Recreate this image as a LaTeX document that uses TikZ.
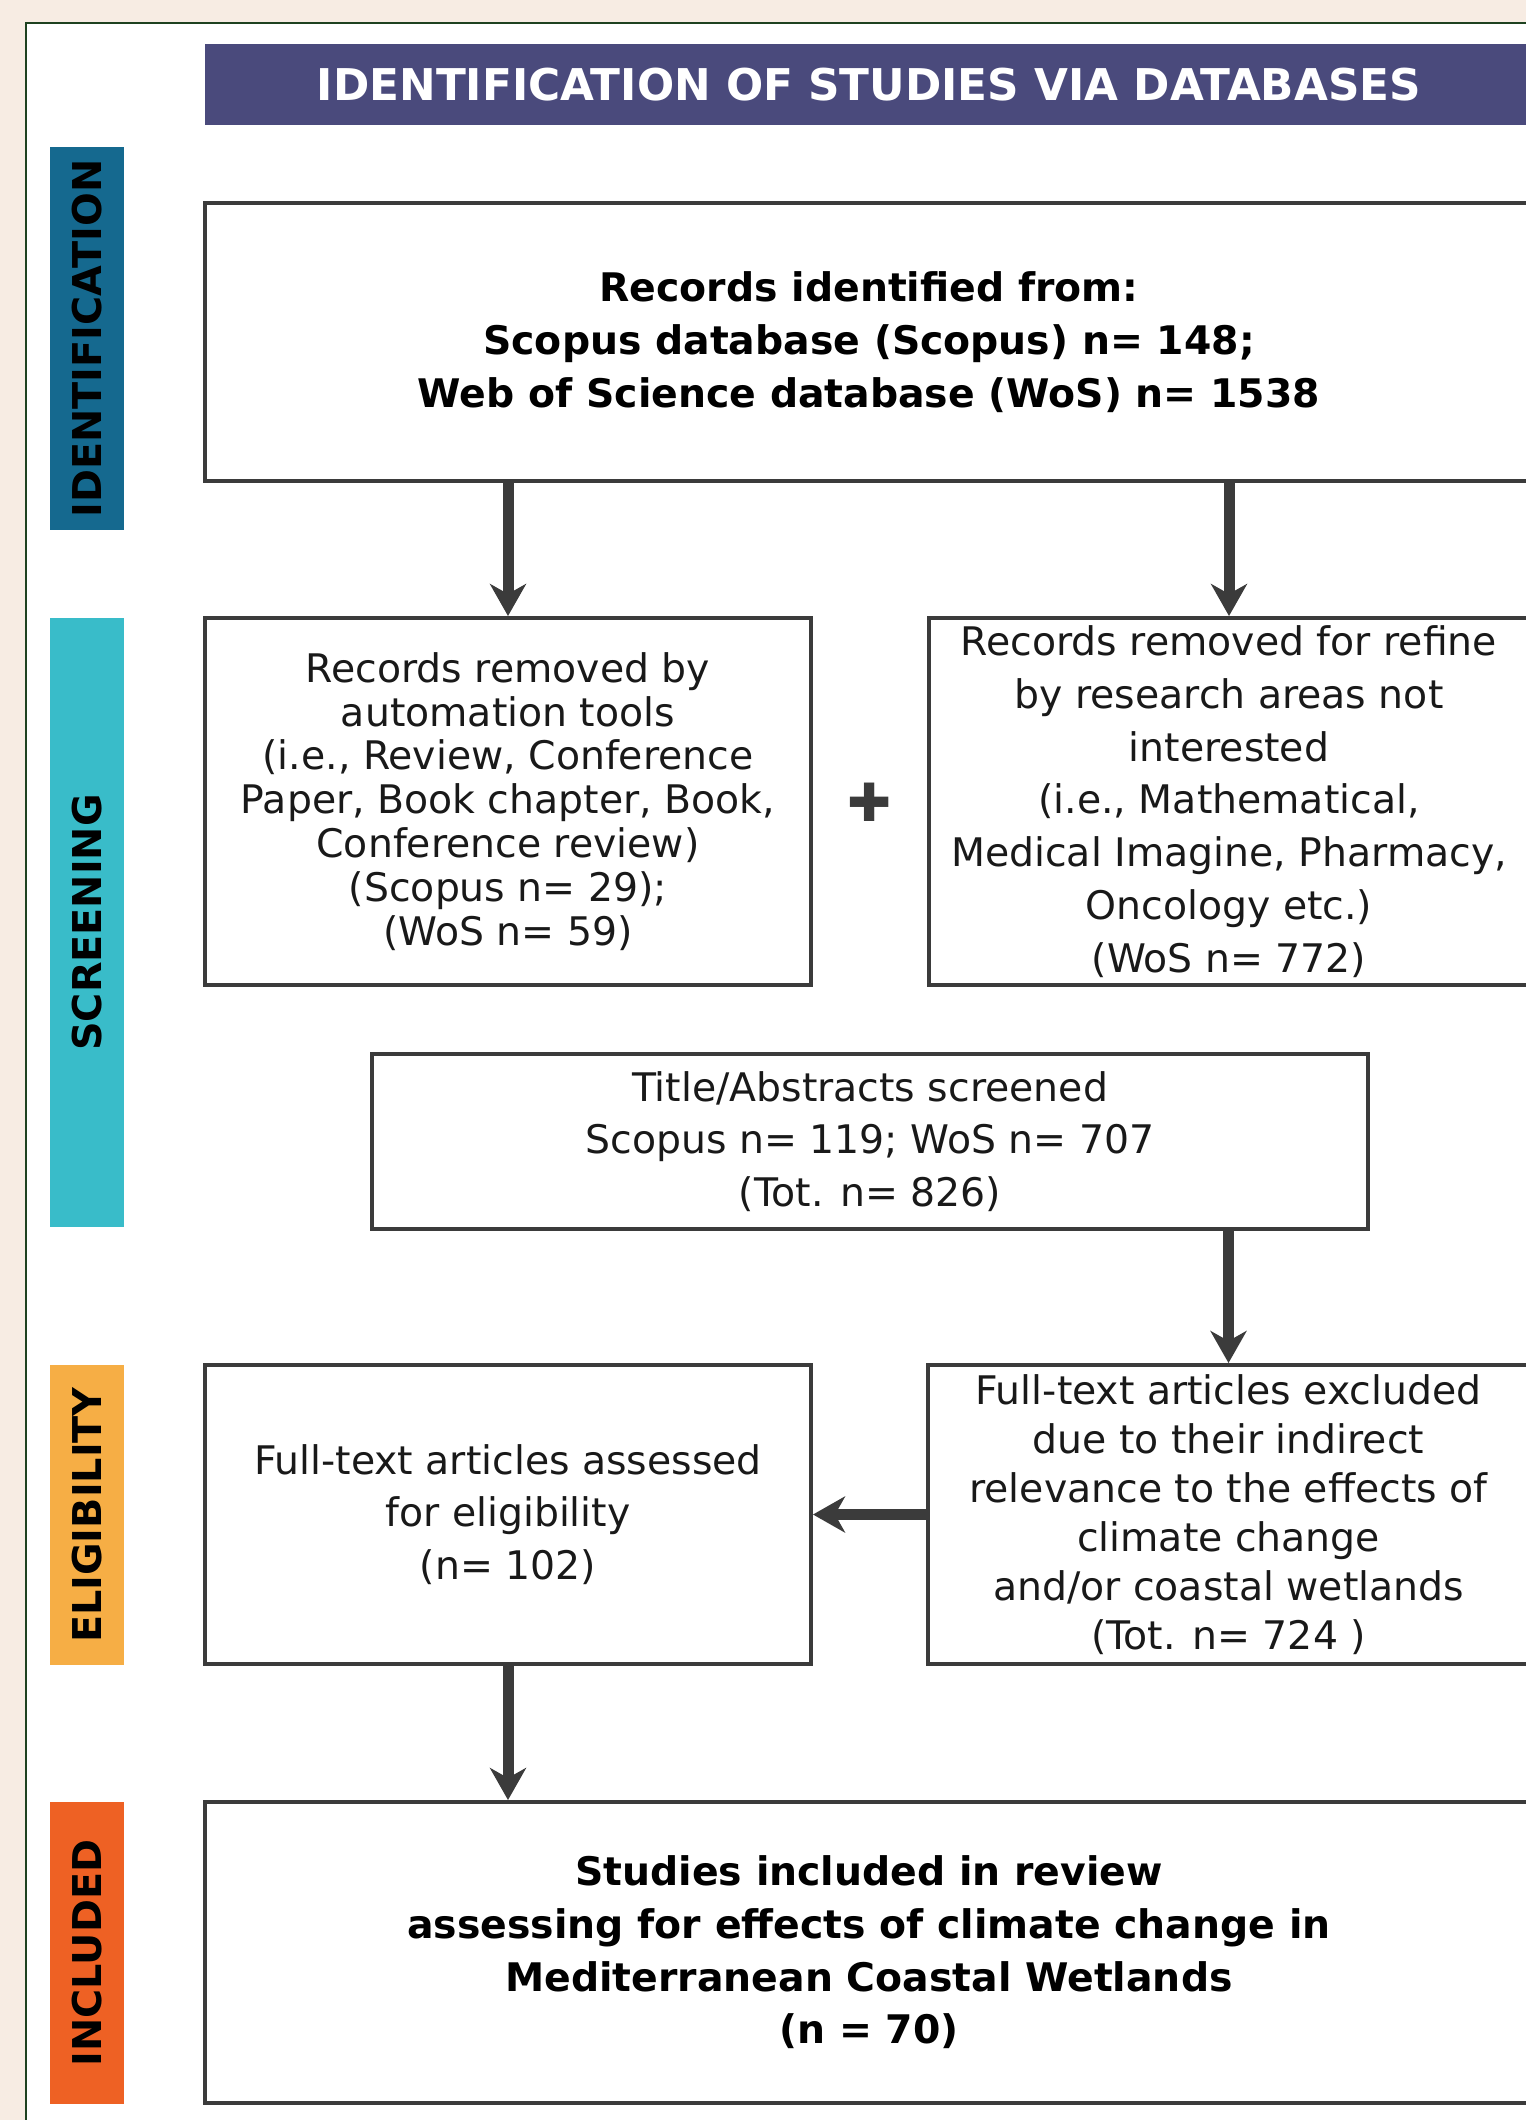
\documentclass[tikz,border=0pt]{standalone}
\usepackage{fontspec}
\setmainfont{DejaVu Sans}
\usetikzlibrary{shapes,arrows.meta,positioning,calc}

\definecolor{headblue}{HTML}{4A4A7C}
\definecolor{idblue}{HTML}{15698F}
\definecolor{scrcyan}{HTML}{39BCC9}
\definecolor{eliorange}{HTML}{F6AE45}
\definecolor{incred}{HTML}{EE6124}
\definecolor{framegreen}{HTML}{1E4220}
\definecolor{boxgray}{HTML}{3B3B3B}
\definecolor{peach}{HTML}{F7ECE3}

\begin{document}
\begin{tikzpicture}[x=0.1mm, y=-0.1mm,
  headbar/.style={rectangle, fill=headblue, minimum width=132.8mm, minimum height=8.1mm, text=white, font=\fontsize{12.45}{14}\selectfont\bfseries},
  phasebar/.style={rectangle, rotate=90, minimum height=7.4mm, inner sep=0pt, font=\fontsize{11.3}{13}\selectfont\bfseries},
  flowbox/.style={rectangle, draw=boxgray, line width=0.4mm, fill=white, align=center, inner sep=0pt, text=black!90, font=\fontsize{11.2}{15}\selectfont},
  boldbox/.style={flowbox, text=black, font=\fontsize{11.2}{15}\selectfont\bfseries},
  arr/.style={-{Stealth[length=3.2mm, width=3.6mm, inset=1mm]}, line width=1.1mm, draw=boxgray},
]

\useasboundingbox (0,0) rectangle (1526,2120);
\clip (0,0) rectangle (1526,2120);
\fill[peach] (0,0) rectangle (1526,2120);
\draw[framegreen, line width=0.25mm, fill=white] (26,23) rectangle (1600,2200);

% Header and phases
\node[headbar] (header) at (869,84.5) {IDENTIFICATION OF STUDIES VIA DATABASES};
\node[phasebar, fill=idblue, minimum width=38.3mm] (phaseid) at (87,338.5) {IDENTIFICATION};
\node[phasebar, fill=scrcyan, minimum width=60.9mm] (phasescr) at (87,922.5) {SCREENING};
\node[phasebar, fill=eliorange, minimum width=30mm] (phaseeli) at (87,1515) {ELIGIBILITY};
\node[phasebar, fill=incred, minimum width=30.2mm] (phaseinc) at (87,1953) {INCLUDED};

% Nodes
\node[boldbox, minimum width=132.8mm, minimum height=27.8mm] (idbox) at (869,342)
  {Records identified from:\\ Scopus database (Scopus) n= 148;\\ Web of Science database (WoS) n= 1538};
\node[flowbox, minimum width=60.6mm, minimum height=36.7mm, font=\fontsize{11.2}{12.5}\selectfont] (autobox) at (508,801.5)
  {Records removed by\\ automation tools\\ (i.e., Review, Conference\\ Paper, Book chapter, Book,\\ Conference review)\\ (Scopus n= 29);\\ (WoS n= 59)};
\node[flowbox, minimum width=60mm, minimum height=36.7mm] (refinebox) at (1229,801.5)
  {Records removed for refine\\ by research areas not\\ interested\\ (i.e., Mathematical,\\ Medical Imagine, Pharmacy,\\ Oncology etc.)\\ (WoS n= 772)};
\node[text=boxgray, font=\fontsize{15}{15}\selectfont] (plus) at (870,802) {✚};
\node[flowbox, minimum width=99.6mm, minimum height=17.5mm] (screenbox) at (870,1141.5)
  {Title/Abstracts screened\\ Scopus n= 119; WoS n= 707\\ (Tot. n= 826)};
\node[flowbox, minimum width=60.6mm, minimum height=29.9mm] (assessbox) at (508,1514.5)
  {Full-text articles assessed\\ for eligibility\\ (n= 102)};
\node[flowbox, minimum width=60.1mm, minimum height=29.9mm, font=\fontsize{11.2}{13.9}\selectfont] (excludebox) at (1228.5,1514.5)
  {Full-text articles excluded\\ due to their indirect\\ relevance to the effects of\\ climate change\\ and/or coastal wetlands\\ (Tot. n= 724 )};
\node[boldbox, minimum width=132.8mm, minimum height=30.1mm] (inclbox) at (869,1952.5)
  {Studies included in review\\ assessing for effects of climate change in\\ Mediterranean Coastal Wetlands\\ (n = 70)};

% Lines
\draw[arr] (idbox.south -| autobox.north) -- (autobox.north);
\draw[arr] (idbox.south -| refinebox.north) -- (refinebox.north);
\draw[arr] (screenbox.south -| excludebox.north) -- (excludebox.north);
\draw[arr] (excludebox.west) -- (assessbox.east);
\draw[arr] (assessbox.south) -- (inclbox.north -| assessbox.south);

\end{tikzpicture}
\end{document}
